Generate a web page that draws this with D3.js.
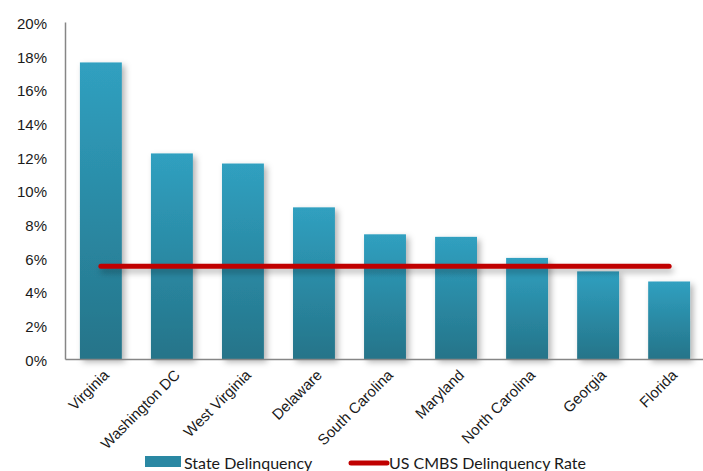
<!DOCTYPE html>
<html>
<head>
<meta charset="utf-8">
<script src="https://cdn.jsdelivr.net/npm/d3@7"></script>
<style>
  html, body { margin: 0; padding: 0; background: #fff; }
  svg { display: block; font-family: Lato, "Open Sans", sans-serif; }
</style>
</head>
<body>
<svg id="chart" width="703" height="471"></svg>
<script>
// State-level delinquency compared with the national CMBS rate
const states = ["Virginia", "Washington DC", "West Virginia", "Delaware", "South Carolina",
                "Maryland", "North Carolina", "Georgia", "Florida"];
const stateDelinquency = [17.6, 12.2, 11.6, 9.0, 7.4, 7.25, 6.0, 5.2, 4.6];
const usCmbsRate = [5.5, 5.5, 5.5, 5.5, 5.5, 5.5, 5.5, 5.5, 5.5];
const yTicks = [0, 2, 4, 6, 8, 10, 12, 14, 16, 18, 20];
const legendLabels = ["State Delinquency", "US CMBS Delinquency  Rate"];

const svg = d3.select("#chart");
const plotLeft = 65, plotRight = 705, plotTop = 22, plotBottom = 359;

const x = d3.scaleBand().domain(states).range([plotLeft, plotRight]).paddingInner(0.41).paddingOuter(0.21);
const y = d3.scaleLinear().domain([0, 20]).range([plotBottom, plotTop]);

const defs = svg.append("defs");
const grad = defs.append("linearGradient").attr("id", "barGrad")
  .attr("x1", 0).attr("y1", 0).attr("x2", 0).attr("y2", 1);
grad.append("stop").attr("offset", "0%").attr("stop-color", "#30a0c0");
grad.append("stop").attr("offset", "100%").attr("stop-color", "#257489");

const shadow = defs.append("filter").attr("id", "shadow")
  .attr("x", "-20%").attr("y", "-20%").attr("width", "160%").attr("height", "160%");
shadow.append("feDropShadow").attr("dx", 3).attr("dy", 3).attr("stdDeviation", 3)
  .attr("flood-color", "#000").attr("flood-opacity", 0.3);

const lineShadow = defs.append("filter").attr("id", "lineShadow")
  .attr("filterUnits", "userSpaceOnUse")
  .attr("x", 0).attr("y", 0).attr("width", 703).attr("height", 471);
lineShadow.append("feDropShadow").attr("dx", 2).attr("dy", 4).attr("stdDeviation", 3)
  .attr("flood-color", "#000").attr("flood-opacity", 0.3);

// Bars
svg.append("g").selectAll("rect").data(states).join("rect")
  .attr("x", d => x(d))
  .attr("y", (d, i) => y(stateDelinquency[i]))
  .attr("width", x.bandwidth())
  .attr("height", (d, i) => y(0) - y(stateDelinquency[i]))
  .attr("fill", "url(#barGrad)")
  .attr("filter", "url(#shadow)");

// US CMBS rate line
const line = d3.line()
  .x((d, i) => x(states[i]) + x.bandwidth() / 2)
  .y(d => y(d));
svg.append("path").datum(usCmbsRate)
  .attr("d", line)
  .attr("fill", "none")
  .attr("stroke", "#c00000")
  .attr("stroke-width", 5)
  .attr("stroke-linecap", "round")
  .attr("filter", "url(#lineShadow)");

// Y axis
const yAxis = d3.axisLeft(y).tickValues(yTicks).tickFormat(d => d + "%").tickSize(0).tickPadding(18);
const gy = svg.append("g").attr("transform", `translate(${plotLeft},0)`).call(yAxis);
gy.select(".domain").attr("stroke", "#868686").attr("stroke-width", 1.5);
gy.selectAll("text").attr("font-size", 15).attr("fill", "#1a1a1a").attr("dy", "0.42em");

// X axis
const xAxis = d3.axisBottom(x).tickSize(0).tickPadding(0);
const gx = svg.append("g").attr("transform", `translate(0,${plotBottom})`).call(xAxis);
gx.select(".domain").attr("stroke", "#868686").attr("stroke-width", 1.5);
gx.selectAll("text")
  .attr("font-size", 15)
  .attr("fill", "#1a1a1a")
  .attr("text-anchor", "end")
  .attr("dy", 0)
  .attr("transform", "translate(9,17) rotate(-45)");

// Legend
const lg = svg.append("g").attr("font-size", 16).attr("fill", "#1a1a1a")
  .style("white-space", "pre");
lg.append("rect").attr("x", 145).attr("y", 456).attr("width", 36).attr("height", 11).attr("fill", "#2a88a3");
lg.append("text").attr("x", 184).attr("y", 469).text(legendLabels[0]);
lg.append("line").attr("x1", 351).attr("x2", 387).attr("y1", 463).attr("y2", 463)
  .attr("stroke", "#c00000").attr("stroke-width", 5).attr("stroke-linecap", "round");
lg.append("text").attr("x", 389).attr("y", 469).text(legendLabels[1]);
</script>
</body>
</html>
